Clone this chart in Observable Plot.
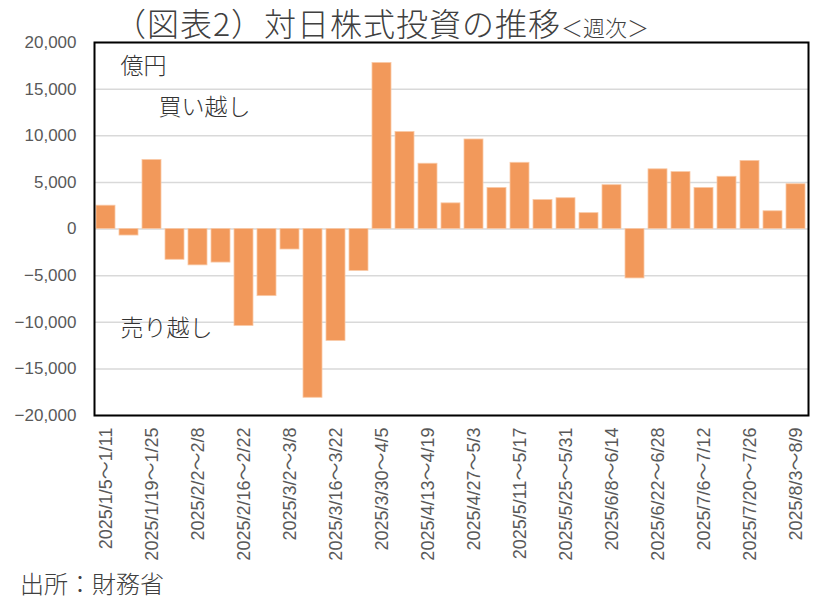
<!DOCTYPE html>
<html>
<head>
<meta charset="utf-8">
<script src="https://cdn.jsdelivr.net/npm/d3@7"></script>
<script src="https://cdn.jsdelivr.net/npm/@observablehq/plot@0.6"></script>
<style>
  body { margin: 0; background: #fff; width: 829px; height: 607px; overflow: hidden; position: relative; }
  #title { position: absolute; left: 0; top: 0; width: 763px; height: 42px; text-align: center; padding-right: 66px;
    font-family: "Noto Sans CJK JP", sans-serif; font-weight: 300; color: #404040; line-height: 44px; white-space: nowrap; }
  #title .main { font-size: 32px; letter-spacing: 1px; }
  #title .sub { font-size: 22px; }
  #chart { position: absolute; left: 0; top: 0; }
  #footer { position: absolute; left: 20px; top: 566px; font-family: "Noto Sans CJK JP", sans-serif; font-weight: 300;
    font-size: 24px; color: #404040; line-height: 34px; }
</style>
</head>
<body>
<div id="title"><span class="main">（図表2）対日株式投資の推移</span><span class="sub">＜週次＞</span></div>
<div id="chart"></div>
<div id="footer">出所：財務省</div>
<script>
const weeks = [
  "2025/1/5～1/11", "2025/1/12～1/18", "2025/1/19～1/25", "2025/1/26～2/1",
  "2025/2/2～2/8", "2025/2/9～2/15", "2025/2/16～2/22", "2025/2/23～3/1",
  "2025/3/2～3/8", "2025/3/9～3/15", "2025/3/16～3/22", "2025/3/23～3/29",
  "2025/3/30～4/5", "2025/4/6～4/12", "2025/4/13～4/19", "2025/4/20～4/26",
  "2025/4/27～5/3", "2025/5/4～5/10", "2025/5/11～5/17", "2025/5/18～5/24",
  "2025/5/25～5/31", "2025/6/1～6/7", "2025/6/8～6/14", "2025/6/15～6/21",
  "2025/6/22～6/28", "2025/6/29～7/5", "2025/7/6～7/12", "2025/7/13～7/19",
  "2025/7/20～7/26", "2025/7/27～8/2", "2025/8/3～8/9"
];
const netBuy = [
  2500, -700, 7400, -3300, -3900, -3600, -10400, -7200,
  -2200, -18100, -12000, -4500, 17800, 10400, 7000, 2750,
  9600, 4400, 7100, 3100, 3300, 1700, 4700, -5300,
  6400, 6100, 4400, 5600, 7300, 1900, 4800
];
const yTicks = [-20000, -15000, -10000, -5000, 0, 5000, 10000, 15000, 20000];
const xTickLabels = weeks.filter((d, i) => i % 2 === 0);
const unitLabel = "億円";
const buyLabel = "買い越し";
const sellLabel = "売り越し";

const data = weeks.map((w, i) => ({week: w, value: netBuy[i]}));

const noteStyle = {frameAnchor: "top-left", textAnchor: "start", lineAnchor: "middle",
  fontSize: 23, fill: "#333", fontFamily: "'Noto Sans CJK JP', sans-serif", fontWeight: 300};

const chart = Plot.plot({
  width: 829,
  height: 560,
  marginTop: 42,
  marginBottom: 145,
  marginLeft: 94,
  marginRight: 21,
  style: {fontFamily: "'Liberation Sans', 'Noto Sans', sans-serif", fontSize: "17px", color: "#595959", background: "transparent"},
  x: {domain: weeks, paddingInner: 0.16, paddingOuter: 0.08, label: null},
  y: {domain: [-20000, 20000], label: null},
  marks: [
    Plot.gridY(yTicks, {stroke: "#d9d9d9", strokeOpacity: 1, strokeWidth: 1.5}),
    Plot.barY(data, {x: "week", y: "value", fill: "#F2995B", stroke: "#F9C9A6", strokeWidth: 0.8}),
    Plot.axisY(yTicks, {tickSize: 0, tickPadding: 18, fontSize: 17, fill: "#595959", tickFormat: d3.format(",")}),
    Plot.axisX(xTickLabels, {tickSize: 0, tickPadding: 12, tickRotate: -90, fontSize: 18, fill: "#595959",
      fontFamily: "'Liberation Sans', 'Noto Sans CJK JP', sans-serif"}),
    Plot.frame({stroke: "#000", strokeWidth: 2}),
    Plot.text([unitLabel], {...noteStyle, dx: 26, dy: 24}),
    Plot.text([buyLabel], {...noteStyle, dx: 64, dy: 65}),
    Plot.text([sellLabel], {...noteStyle, dx: 26, dy: 286})
  ]
});
document.getElementById("chart").appendChild(chart);
</script>
</body>
</html>
